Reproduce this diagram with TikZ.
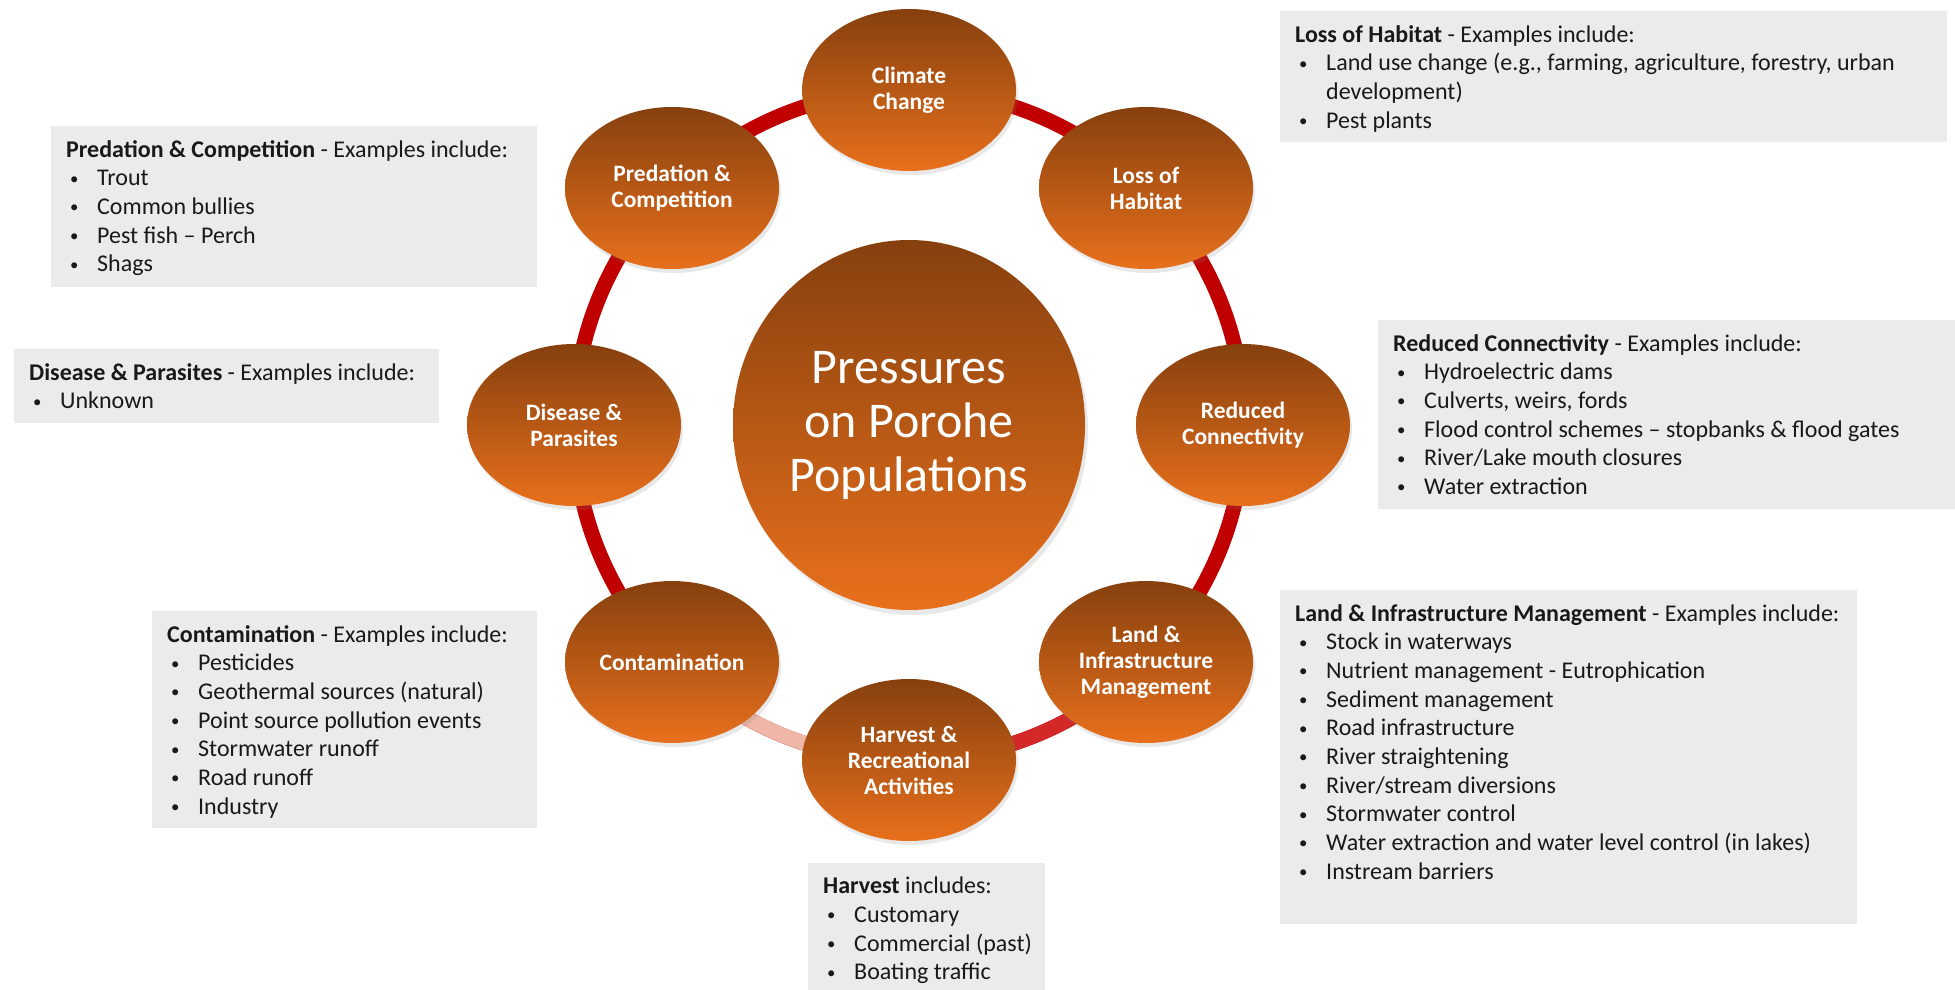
\documentclass[tikz,border=0pt]{standalone}
\usepackage{fontspec}
\usepackage{graphicx}
\setmainfont{Carlito}
\usetikzlibrary{shapes.geometric,shadows}
\definecolor{ringred}{RGB}{192,0,0}
\definecolor{ringlight}{RGB}{212,40,40}
\definecolor{ringpink}{RGB}{240,182,168}
\definecolor{brtop}{RGB}{134,64,14}
\definecolor{brbot}{RGB}{232,112,28}
\definecolor{boxgray}{RGB}{235,235,235}
\definecolor{textdark}{RGB}{25,25,25}
\newcommand{\itm}[1]{\hspace*{4pt}\makebox[27pt][l]{\raisebox{0.15ex}{\scalebox{0.7}{\textbullet}}}#1}
\tikzset{
  pnode/.style={ellipse, minimum width=214pt, minimum height=162pt, inner sep=0pt,
    top color=brtop, bottom color=brbot, draw=none, text=white, align=center,
    font=\bfseries\fontsize{23.5}{26}\selectfont,
    drop shadow={opacity=0.18, shadow xshift=2pt, shadow yshift=-4pt}},
  centre/.style={ellipse, minimum width=352pt, minimum height=370pt, inner sep=0pt,
    top color=brtop, bottom color=brbot, draw=none, text=white, align=center,
    font=\fontsize{50}{54}\selectfont,
    drop shadow={opacity=0.18, shadow xshift=3pt, shadow yshift=-5pt}},
  ringline/.style={line width=15pt, draw=ringred},
  exbox/.style={fill=boxgray, draw=none, inner sep=0pt, anchor=north west},
  extext/.style={anchor=north west, inner sep=0pt, align=left, text=textdark,
    font=\fontsize{24}{28.7}\selectfont},
}
\begin{document}
\begin{tikzpicture}[x=1pt,y=-1pt]
\useasboundingbox (0,0) rectangle (1955,990);

% ring
\coordinate (c) at (909,425);
\draw[ringline] (c) circle[radius=335pt];
\draw[line width=15pt, draw=ringpink] (909,760) arc[start angle=270, end angle=225, radius=335pt];
\draw[line width=15pt, draw=ringlight] (1146,662) arc[start angle=315, end angle=275, radius=335pt];

% nodes
\node[centre] (main) at (909,425) {Pressures\\on Porohe\\Populations};
\node[pnode] (clim) at (909,90) {Climate\\Change};
\node[pnode] (loss) at (1146,188) {Loss of\\Habitat};
\node[pnode] (red) at (1243,425) {Reduced\\Connectivity};
\node[pnode] (land) at (1146,662) {Land \&\\Infrastructure\\Management};
\node[pnode] (harv) at (909,760) {Harvest \&\\Recreational\\Activities};
\node[pnode] (cont) at (672,662) {Contamination};
\node[pnode] (disp) at (574,425) {Disease \&\\Parasites};
\node[pnode] (pred) at (672,188) {Predation \&\\Competition};

% example boxes
\node[exbox, minimum width=667pt, minimum height=131pt] (lossbox) at (1280,11) {};
\node[extext] (losstext) at ([xshift=15pt, yshift=-14pt]lossbox.north west)
 {\textbf{Loss of Habitat} - Examples include:\\
  \itm{Land use change (e.g., farming, agriculture, forestry, urban}\\
  \hspace*{31pt}development)\\
  \itm{Pest plants}};

\node[exbox, minimum width=486pt, minimum height=161pt] (predbox) at (51,126) {};
\node[extext] (predtext) at ([xshift=15pt, yshift=-14pt]predbox.north west)
 {\textbf{Predation \& Competition} - Examples include:\\
  \itm{Trout}\\
  \itm{Common bullies}\\
  \itm{Pest fish – Perch}\\
  \itm{Shags}};

\node[exbox, minimum width=425pt, minimum height=74pt] (disbox) at (14,349) {};
\node[extext] (distext) at ([xshift=15pt, yshift=-14pt]disbox.north west)
 {\textbf{Disease \& Parasites} - Examples include:\\
  \itm{Unknown}};

\node[exbox, minimum width=577pt, minimum height=189pt] (redbox) at (1378,320) {};
\node[extext] (redtext) at ([xshift=15pt, yshift=-14pt]redbox.north west)
 {\textbf{Reduced Connectivity} - Examples include:\\
  \itm{Hydroelectric dams}\\
  \itm{Culverts, weirs, fords}\\
  \itm{Flood control schemes – stopbanks \& flood gates}\\
  \itm{River/Lake mouth closures}\\
  \itm{Water extraction}};

\node[exbox, minimum width=577pt, minimum height=334pt] (landbox) at (1280,590) {};
\node[extext] (landtext) at ([xshift=15pt, yshift=-14pt]landbox.north west)
 {\textbf{Land \& Infrastructure Management} - Examples include:\\
  \itm{Stock in waterways}\\
  \itm{Nutrient management - Eutrophication}\\
  \itm{Sediment management}\\
  \itm{Road infrastructure}\\
  \itm{River straightening}\\
  \itm{River/stream diversions}\\
  \itm{Stormwater control}\\
  \itm{Water extraction and water level control (in lakes)}\\
  \itm{Instream barriers}};

\node[exbox, minimum width=385pt, minimum height=217pt] (contbox) at (152,611) {};
\node[extext] (conttext) at ([xshift=15pt, yshift=-14pt]contbox.north west)
 {\textbf{Contamination} - Examples include:\\
  \itm{Pesticides}\\
  \itm{Geothermal sources (natural)}\\
  \itm{Point source pollution events}\\
  \itm{Stormwater runoff}\\
  \itm{Road runoff}\\
  \itm{Industry}};

\node[exbox, minimum width=237pt, minimum height=127pt] (harvbox) at (808,863) {};
\node[extext] (harvtext) at ([xshift=15pt, yshift=-14pt]harvbox.north west)
 {\textbf{Harvest} includes:\\
  \itm{Customary}\\
  \itm{Commercial (past)}\\
  \itm{Boating traffic}};
\end{tikzpicture}
\end{document}
